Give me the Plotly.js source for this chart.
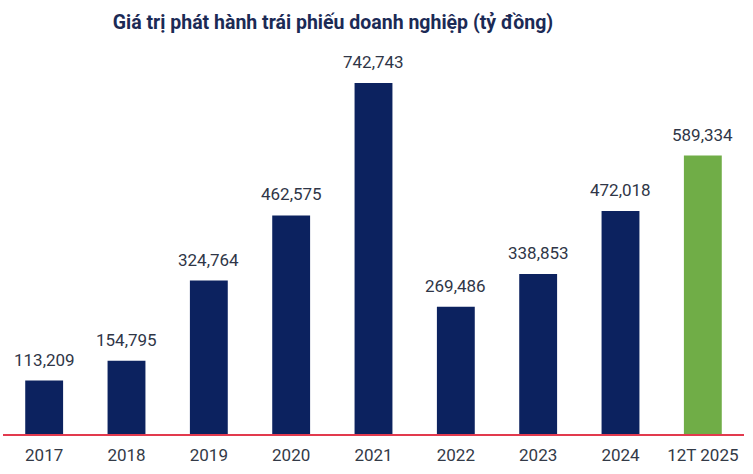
<!DOCTYPE html>
<html>
<head>
<meta charset="utf-8">
<script src="https://cdn.plot.ly/plotly-3.0.1.min.js"></script>
<style>
  html, body { margin: 0; padding: 0; background: #ffffff; }
  #chart { width: 753px; height: 474px; }
</style>
</head>
<body>
<div id="chart"></div>
<script>
// Corporate bond issuance value by year (billion VND)
const categories = ["2017", "2018", "2019", "2020", "2021", "2022", "2023", "2024", "12T 2025"];
const values = [113209, 154795, 324764, 462575, 742743, 269486, 338853, 472018, 589334];
const barColors = ["#0c225f", "#0c225f", "#0c225f", "#0c225f", "#0c225f", "#0c225f", "#0c225f", "#0c225f", "#70ad47"];

const fmt = v => v.toLocaleString("en-US");
const FONT = "Roboto, 'Noto Sans', sans-serif";

const trace = {
  type: "bar",
  x: categories,
  y: values,
  marker: { color: barColors },
  hoverinfo: "x+y"
};

// value labels above each bar (category index used for x position)
const annotations = categories.map((c, i) => ({
  x: i,
  y: values[i],
  xref: "x",
  yref: "y",
  text: fmt(values[i]),
  showarrow: false,
  yanchor: "bottom",
  yshift: 9,
  font: { family: FONT, size: 17, color: "#2f3647" }
}));

const layout = {
  width: 753,
  height: 474,
  margin: { l: 3, r: 9, t: 56, b: 40 },
  paper_bgcolor: "#ffffff",
  plot_bgcolor: "#ffffff",
  showlegend: false,
  bargap: 0.54,
  title: {
    text: "<b>Giá trị phát hành trái phiếu doanh nghiệp (tỷ đồng)</b>",
    x: 333 / 753,
    xanchor: "center",
    y: 1 - 22 / 474,
    yanchor: "middle",
    font: { family: FONT, size: 19.5, color: "#1b2a55" }
  },
  xaxis: {
    type: "category",
    range: [-0.5, 8.5],
    showgrid: false,
    zeroline: false,
    showline: true,
    linecolor: "#e23a4e",
    linewidth: 1.5,
    ticks: "",
    ticklabelstandoff: 5,
    tickfont: { family: FONT, size: 17, color: "#333a47" },
    fixedrange: true
  },
  yaxis: {
    range: [0, 800000],
    visible: false,
    showgrid: false,
    zeroline: false,
    fixedrange: true
  },
  annotations: annotations
};

Plotly.newPlot("chart", [trace], layout, { displayModeBar: false, staticPlot: true });
</script>
</body>
</html>
